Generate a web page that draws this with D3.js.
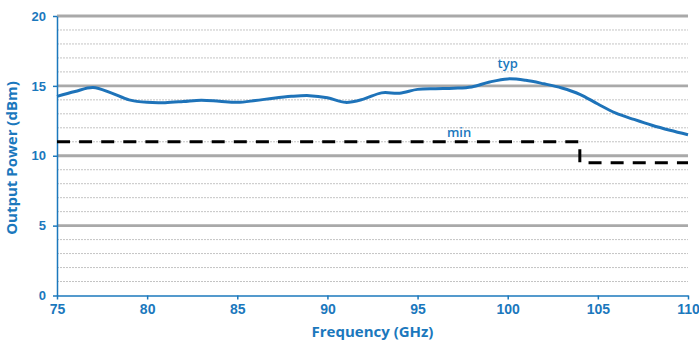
<!DOCTYPE html>
<html>
<head>
<meta charset="utf-8">
<script src="https://cdn.jsdelivr.net/npm/d3@7"></script>
<style>
  body { margin: 0; background: #fff; }
  svg { display: block; font-family: "Open Sans", sans-serif; }
  .tick text { fill: #1b78bd; font-weight: 700; }
</style>
</head>
<body>
<svg id="chart" width="699" height="343"></svg>
<script>
// dados
var freq = [75,76,77,78,79,80,81,82,83,84,85,86,87,88,89,90,91,92,93,94,95,96,97,98,99,100,101,102,103,104,105,106,107,108,109,110];
var typ = [14.25,14.6,14.88,14.5,14.0,13.82,13.8,13.88,13.98,13.9,13.82,13.95,14.12,14.25,14.3,14.15,13.82,14.05,14.5,14.48,14.75,14.8,14.83,14.92,15.28,15.5,15.4,15.15,14.85,14.4,13.7,13.05,12.6,12.18,11.82,11.5];
var minFreq = [75,104,104,110];
var minVal = [11,11,9.5,9.5];
var xTicks = [75,80,85,90,95,100,105,110];
var yTicks = [0,5,10,15,20];
var yMinor = [1,2,3,4,6,7,8,9,11,12,13,14,16,17,18,19];
var rotulos = [{t:"typ", f:100, v:16.3}, {t:"min", f:97.3, v:11.35}];

var azul = "#1b78bd";
var svg = d3.select("#chart");
var margin = {top: 16, right: 11, bottom: 47.5, left: 57};
var width = 699 - margin.left - margin.right;
var height = 343 - margin.top - margin.bottom;

var x = d3.scaleLinear().domain([75,110]).range([0,width]);
var y = d3.scaleLinear().domain([0,20]).range([height,0]);

var g = svg.append("g")
    .attr("transform","translate(" + margin.left + "," + margin.top + ")");

// grade menor pontilhada
g.selectAll(".minor").data(yMinor).enter().append("line")
    .attr("x1",0).attr("x2",width)
    .attr("y1",function(d){ return y(d); })
    .attr("y2",function(d){ return y(d); })
    .style("stroke","#c4c4c4").style("stroke-width",1)
    .style("stroke-dasharray","2,1");

// grade maior
g.selectAll(".major").data(yTicks.filter(function(d){ return d>0; })).enter().append("line")
    .attr("x1",0).attr("x2",width)
    .attr("y1",function(d){ return y(d); })
    .attr("y2",function(d){ return y(d); })
    .style("stroke","#a9a9a9").style("stroke-width",2.8);

// eixos
var eixoX = g.append("g")
    .attr("transform","translate(0," + height + ")")
    .call(d3.axisBottom(x).tickValues(xTicks).tickSize(4).tickSizeOuter(0).tickPadding(5));
eixoX.selectAll("text").style("font-size","14px");

var eixoY = g.append("g")
    .call(d3.axisLeft(y).tickValues(yTicks).tickSize(4).tickSizeOuter(0).tickPadding(7));
eixoY.selectAll("text").style("font-size","13px");

svg.selectAll(".domain, .tick line").style("stroke",azul).style("stroke-width",1.5);

// linha min
var linhaMin = d3.line()
    .x(function(d,i){ return x(minFreq[i]); })
    .y(function(d,i){ return y(minVal[i]); });
g.append("path")
    .datum(minVal)
    .attr("d",linhaMin)
    .style("fill","none").style("stroke","#000")
    .style("stroke-width",3).style("stroke-dasharray","13,9.1");

// curva typ
var linhaTyp = d3.line()
    .x(function(d,i){ return x(freq[i]); })
    .y(function(d){ return y(d); })
    .curve(d3.curveCatmullRom);
g.append("path")
    .datum(typ)
    .attr("d",linhaTyp)
    .style("fill","none").style("stroke","#1e73b9")
    .style("stroke-width",3);

// rotulos
g.selectAll(".rot").data(rotulos).enter().append("text")
    .attr("x",function(d){ return x(d.f); })
    .attr("y",function(d){ return y(d.v); })
    .attr("text-anchor","middle")
    .style("fill",azul).style("font-size","13px").style("font-weight",600)
    .text(function(d){ return d.t; });

// titulos dos eixos
svg.append("text")
    .attr("x", margin.left + width/2)
    .attr("y", 337)
    .attr("text-anchor","middle")
    .style("fill",azul).style("font-size","15px").style("font-weight",700)
    .text("Frequency (GHz)");

svg.append("text")
    .attr("transform","translate(17,158) rotate(-90)")
    .attr("text-anchor","middle")
    .style("fill",azul).style("font-size","15px").style("font-weight",700)
    .text("Output Power (dBm)");
</script>
</body>
</html>
